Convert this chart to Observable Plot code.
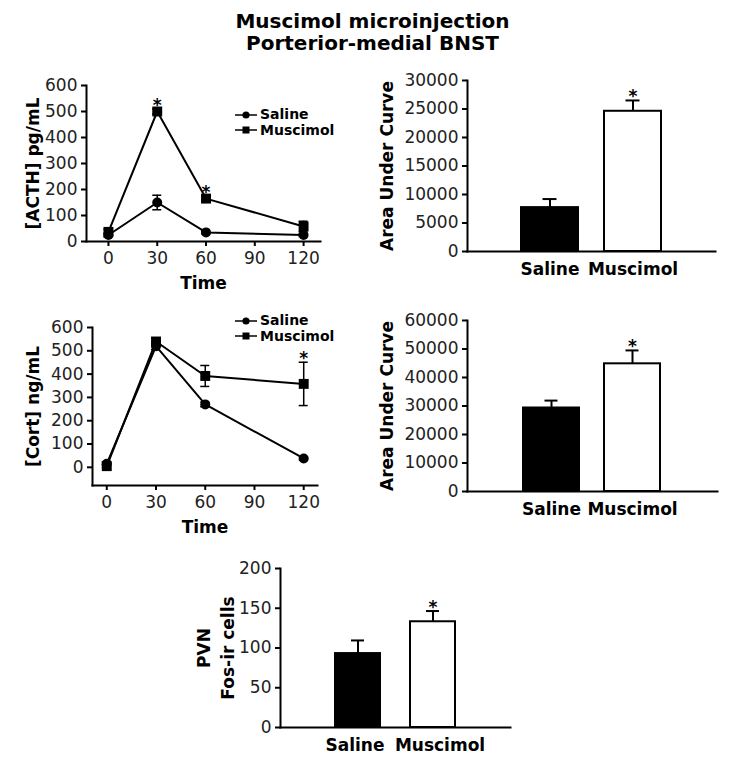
<!DOCTYPE html>
<html>
<head>
<meta charset="utf-8">
<script src="https://cdn.jsdelivr.net/npm/d3@7"></script>
<script src="https://cdn.jsdelivr.net/npm/@observablehq/plot@0.6"></script>
<style>
  body { margin: 0; background: #fff; }
  #wrap { position: relative; width: 753px; height: 762px; background: #fff; overflow: hidden;
          font-family: "DejaVu Sans", sans-serif; }
  .panel { position: absolute; }
  .panel g[aria-label$="tick label"] { font-size: 17px; }
  .title { position: absolute; left: -4px; width: 753px; text-align: center; font-weight: bold;
           font-size: 20px; line-height: 22px; color: #000; }
  .legend { position: absolute; font-weight: bold; font-size: 14px; color: #000; line-height: 15.5px; }
  .legend div { display: flex; align-items: center; height: 15.5px; }
  .legend svg { margin-right: 3px; }
</style>
</head>
<body>
<div id="wrap"></div>
<script>
// ---------- data ----------
const titleLines = ["Muscimol microinjection", "Porterior-medial BNST"];
const times = [0, 30, 60, 120];
const timeTicks = [0, 30, 60, 90, 120];
const seriesNames = ["Saline", "Muscimol"];

const acthSaline = [25, 150, 35, 25];
const acthSalineErr = [8, 28, 5, 6];
const acthMuscimol = [37, 500, 165, 58];
const acthMuscimolErr = [10, 10, 10, 20];
const acthStarTimes = [30, 60];
const acthTicks = [0, 100, 200, 300, 400, 500, 600];

const cortSaline = [15, 520, 270, 38];
const cortSalineErr = [6, 15, 10, 6];
const cortMuscimol = [5, 540, 392, 358];
const cortMuscimolErr = [6, 15, 45, 93];
const cortStarTimes = [120];
const cortTicks = [0, 100, 200, 300, 400, 500, 600];

const groups = ["Saline", "Muscimol"];
const acthAuc = [7700, 24600];
const acthAucErr = [1500, 1900];
const acthAucTicks = [0, 5000, 10000, 15000, 20000, 25000, 30000];
const cortAuc = [29300, 44800];
const cortAucErr = [2600, 4700];
const cortAucTicks = [0, 10000, 20000, 30000, 40000, 50000, 60000];
const pvnFos = [93, 133];
const pvnFosErr = [16.5, 13.5];
const pvnTicks = [0, 50, 100, 150, 200];
const starGroups = ["Muscimol"];

// ---------- helpers ----------
const wrap = document.getElementById("wrap");
const baseStyle = { fontFamily: '"DejaVu Sans", sans-serif', fontSize: "17px", color: "#222", background: "transparent", overflow: "visible" };
const fmt = d3.format("d");

function place(node, left, top) {
  node.classList.add("panel");
  node.style.left = left + "px";
  node.style.top = top + "px";
  wrap.appendChild(node);
}

function linePanel(o) {
  const rows = [];
  times.forEach((t, i) => rows.push({ t, v: o.sal[i], e: o.salErr[i], g: seriesNames[0] }));
  times.forEach((t, i) => rows.push({ t, v: o.mus[i], e: o.musErr[i], g: seriesNames[1] }));
  const sal = rows.filter(d => d.g === seriesNames[0]);
  const mus = rows.filter(d => d.g === seriesNames[1]);
  const starRows = mus.filter(d => o.stars.includes(d.t));
  return Plot.plot({
    width: o.width, height: o.height,
    marginLeft: o.ml, marginRight: o.mr, marginTop: o.mt, marginBottom: o.mb,
    style: baseStyle,
    x: { domain: o.xDomain },
    y: { domain: o.yDomain },
    marks: [
      Plot.axisY({ ticks: o.yTicks, tickFormat: fmt, tickSize: 5, tickPadding: 4, fontSize: 17, stroke: "#000", strokeWidth: 2, label: null }),
      Plot.axisX({ ticks: timeTicks, tickFormat: fmt, tickSize: 5, tickPadding: 5, fontSize: 17, stroke: "#000", strokeWidth: 2, label: null }),
      Plot.frame({ anchor: "left", stroke: "#000", strokeWidth: 2 }),
      Plot.frame({ anchor: "bottom", stroke: "#000", strokeWidth: 2 }),
      Plot.line(rows, { x: "t", y: "v", z: "g", stroke: "#000", strokeWidth: 2 }),
      Plot.ruleX(rows, { x: "t", y1: d => d.v - d.e, y2: d => d.v + d.e, stroke: "#000", strokeWidth: 1.5 }),
      Plot.ruleY(rows, { x1: "t", x2: "t", y: d => d.v + d.e, insetLeft: -4.5, insetRight: -4.5, stroke: "#000", strokeWidth: 1.5 }),
      Plot.ruleY(rows, { x1: "t", x2: "t", y: d => d.v - d.e, insetLeft: -4.5, insetRight: -4.5, stroke: "#000", strokeWidth: 1.5 }),
      Plot.dot(sal, { x: "t", y: "v", r: 5, fill: "#000", symbol: "circle" }),
      Plot.dot(mus, { x: "t", y: "v", r: 5.6, fill: "#000", symbol: "square" }),
      Plot.text(starRows, { x: "t", y: d => d.v + d.e, text: () => "*", lineAnchor: "bottom", dy: 2, fontWeight: "bold", fontSize: 17, fill: "#000" }),
      Plot.text([o.yLabel], { text: d => d, frameAnchor: "left", textAnchor: "middle", lineAnchor: "middle", rotate: -90, dx: o.yLabelDx, fontWeight: "bold", fontSize: 17, fill: "#000" }),
      Plot.text(["Time"], { text: d => d, frameAnchor: "bottom", textAnchor: "middle", lineAnchor: "bottom", dy: 47, fontWeight: "bold", fontSize: 17, fill: "#000" })
    ]
  });
}

function barPanel(o) {
  const rows = groups.map((g, i) => ({ g, v: o.values[i], e: o.errs[i] }));
  const starRows = rows.filter(d => starGroups.includes(d.g));
  const catDx = o.catDx || [0, 0];
  return Plot.plot({
    width: o.width, height: o.height,
    marginLeft: o.ml, marginRight: o.mr, marginTop: o.mt, marginBottom: o.mb,
    style: baseStyle,
    x: { domain: groups, paddingInner: o.pi, paddingOuter: o.po, axis: null },
    y: { domain: o.yDomain },
    color: { domain: groups, range: ["#000", "#fff"] },
    marks: [
      Plot.axisY({ ticks: o.yTicks, tickFormat: fmt, tickSize: 5, tickPadding: 4, fontSize: 17, stroke: "#000", strokeWidth: 2, label: null }),
      ...groups.map((g, i) => Plot.text(rows.filter(d => d.g === g), {
        x: "g", text: "g", frameAnchor: "bottom", lineAnchor: "top", dy: 11, dx: catDx[i],
        fontWeight: "bold", fontSize: 17, fill: "#000"
      })),
      Plot.barY(rows, { x: "g", y: "v", fill: "g", stroke: "#000", strokeWidth: 2 }),
      Plot.ruleX(rows, { x: "g", y1: "v", y2: d => d.v + d.e, stroke: "#000", strokeWidth: 2 }),
      Plot.tickY(rows, { x: "g", y: d => d.v + d.e, insetLeft: o.capInset, insetRight: o.capInset, stroke: "#000", strokeWidth: 2 }),
      Plot.frame({ anchor: "left", stroke: "#000", strokeWidth: 2 }),
      Plot.frame({ anchor: "bottom", stroke: "#000", strokeWidth: 2 }),
      Plot.text(starRows, { x: "g", y: d => d.v + d.e, text: () => "*", lineAnchor: "bottom", dy: 2, fontWeight: "bold", fontSize: 17, fill: "#000" }),
      Plot.text([o.yLabel], { text: d => d, frameAnchor: "left", textAnchor: "middle", lineAnchor: "middle", rotate: -90, dx: o.yLabelDx, fontWeight: "bold", fontSize: o.labelSize || 17, lineHeight: o.lineHeight || 1, fill: "#000" })
    ]
  });
}

function legend(left, top) {
  const el = document.createElement("div");
  el.className = "legend";
  el.style.left = left + "px";
  el.style.top = top + "px";
  const sym = [
    '<circle cx="11" cy="5" r="3.6" fill="#000"/>',
    '<rect x="7.5" y="1.5" width="7" height="7" fill="#000"/>'
  ];
  el.innerHTML = seriesNames.map((n, i) =>
    `<div><svg width="22" height="10"><line x1="0" x2="22" y1="5" y2="5" stroke="#000" stroke-width="1.5"/>${sym[i]}</svg>${n}</div>`
  ).join("");
  wrap.appendChild(el);
}

// ---------- title ----------
const title = document.createElement("div");
title.className = "title";
title.style.top = "10px";
title.innerHTML = titleLines.join("<br>");
wrap.appendChild(title);

// ---------- panels ----------
place(linePanel({
  sal: acthSaline, salErr: acthSalineErr, mus: acthMuscimol, musErr: acthMuscimolErr, stars: acthStarTimes,
  width: 370, height: 240, ml: 86, mr: 50, mt: 25, mb: 59,
  xDomain: [-13.5, 130.4], yDomain: [0, 600], yTicks: acthTicks,
  yLabel: "[ACTH] pg/mL", yLabelDx: -53
}), 0, 60);

place(barPanel({
  values: acthAuc, errs: acthAucErr,
  width: 383, height: 240, ml: 97, mr: 38, mt: 20, mb: 49,
  pi: 0.313, po: 0.65, capInset: 21.5,
  yDomain: [0, 30000], yTicks: acthAucTicks,
  yLabel: "Area Under Curve", yLabelDx: -80
}), 370, 60);

place(linePanel({
  sal: cortSaline, salErr: cortSalineErr, mus: cortMuscimol, musErr: cortMuscimolErr, stars: cortStarTimes,
  width: 370, height: 240, ml: 92, mr: 53, mt: 27, mb: 55,
  xDomain: [-8.7, 128.4], yDomain: [-78, 600], yTicks: cortTicks,
  yLabel: "[Cort] ng/mL", yLabelDx: -59
}), 0, 300);

place(barPanel({
  values: cortAuc, errs: cortAucErr,
  width: 383, height: 240, ml: 97, mr: 36, mt: 20, mb: 49,
  pi: 0.305, po: 0.677, capInset: 21.5,
  yDomain: [0, 60000], yTicks: cortAucTicks,
  yLabel: "Area Under Curve", yLabelDx: -80
}), 370, 300);

place(barPanel({
  values: pvnFos, errs: pvnFosErr,
  width: 340, height: 222, ml: 90, mr: 20, mt: 28, mb: 35,
  pi: 0.4, po: 0.733, capInset: 16, catDx: [-3, 7],
  yDomain: [0, 200], yTicks: pvnTicks,
  yLabel: "PVN\nFos-ir cells", yLabelDx: -66, lineHeight: 1.4
}), 190, 540);

legend(235, 107);
legend(235, 313);
</script>
</body>
</html>
